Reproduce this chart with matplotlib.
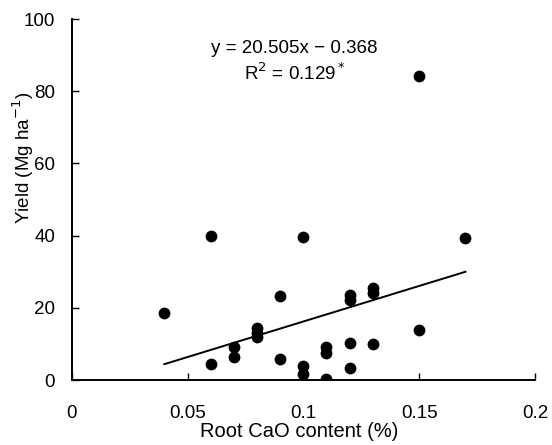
import matplotlib
matplotlib.use("Agg")
import matplotlib.pyplot as plt

plt.rcParams['font.family'] = ['Liberation Sans', 'DejaVu Sans']

cao = [0.04, 0.06, 0.06, 0.07, 0.07, 0.08, 0.08, 0.08, 0.09, 0.09,
       0.10, 0.10, 0.10, 0.11, 0.11, 0.11, 0.12, 0.12, 0.12, 0.12,
       0.13, 0.13, 0.13, 0.15, 0.15, 0.17]
yield_ = [18.6, 40.0, 4.4, 9.2, 6.4, 14.4, 13.0, 11.9, 23.3, 5.8,
          39.7, 3.9, 1.7, 9.2, 7.4, 0.3, 23.6, 22.2, 10.3, 3.3,
          25.5, 24.1, 10.0, 84.2, 13.9, 39.4]
fit_x = [0.04, 0.17]
fit_y = [4.4, 30.0]

xticks = [0, 0.05, 0.1, 0.15, 0.2]
xtick_labels = ['0', '0.05', '0.1', '0.15', '0.2']
yticks = [0, 20, 40, 60, 80, 100]

fig = plt.figure(figsize=(5.52, 4.45), dpi=100)
ax = fig.add_axes([0.130, 0.146, 0.839, 0.811])

ax.scatter(cao, yield_, s=72, color='black', zorder=3, linewidths=0)
ax.plot(fit_x, fit_y, color='black', lw=1.4)

ax.set_xlim(0, 0.2)
ax.set_ylim(0, 100)
ax.set_xticks(xticks)
ax.set_xticklabels(xtick_labels)
ax.set_yticks(yticks)
ax.tick_params(direction='in', length=5, width=1, labelsize=13.5, colors='black')
ax.tick_params(axis='x', pad=18)
ax.tick_params(axis='y', pad=12)
for s in ['top', 'right']:
    ax.spines[s].set_visible(False)
for s in ['left', 'bottom']:
    ax.spines[s].set_linewidth(1.4)

ax.set_xlabel('Root CaO content (%)', fontsize=14.5, labelpad=0)
ax.xaxis.set_label_coords(0.49, -0.115)
ax.set_ylabel('Yield (Mg ha$^{-1}$)', fontsize=13.5)
ax.yaxis.set_label_coords(-0.077, 0.615)

ax.text(0.480, 0.92, 'y = 20.505x \u2212 0.368', transform=ax.transAxes,
        ha='center', va='center', fontsize=13.5)
ax.text(0.482, 0.85, 'R$^2$ = 0.129$^*$', transform=ax.transAxes,
        ha='center', va='center', fontsize=13.5)

fig.savefig('out.png', dpi=100)
